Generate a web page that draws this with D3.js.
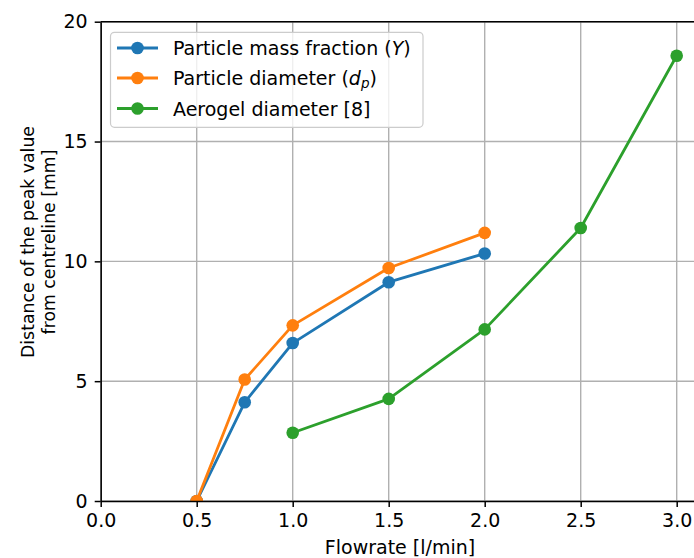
<!DOCTYPE html>
<html>
<head>
<meta charset="utf-8">
<script src="https://cdn.jsdelivr.net/npm/d3@7"></script>
<style>
  html, body { margin: 0; padding: 0; background: #fff; }
  svg { display: block; font-family: "DejaVu Sans", sans-serif; }
</style>
</head>
<body>
<svg id="chart" width="694" height="558"></svg>
<script>
// Flowrate (l/min) and distance of the peak value from the centreline (mm)
const flowMass = [0.5, 0.75, 1.0, 1.5, 2.0];
const massFraction = [0, 4.12, 6.59, 9.13, 10.33];

const flowDiam = [0.5, 0.75, 1.0, 1.5, 2.0];
const particleDiameter = [0, 5.07, 7.33, 9.72, 11.19];

const flowAerogel = [1.0, 1.5, 2.0, 2.5, 3.0];
const aerogelDiameter = [2.85, 4.26, 7.16, 11.39, 18.58];

const xTicks = [0.0, 0.5, 1.0, 1.5, 2.0, 2.5, 3.0];
const yTicks = [0, 5, 10, 15, 20];

const series = [
  { xs: flowMass, ys: massFraction, color: "#1f77b4" },
  { xs: flowDiam, ys: particleDiameter, color: "#ff7f0e" },
  { xs: flowAerogel, ys: aerogelDiameter, color: "#2ca02c" }
];

const svg = d3.select("#chart");
const plotL = 100.7, plotR = 695.9, plotT = 21.7, plotB = 501;

const x = d3.scaleLinear().domain([0, 3.1]).range([plotL, plotR]);
const y = d3.scaleLinear().domain([0, 20]).range([plotB, plotT]);

// grid
const grid = svg.append("g").attr("stroke", "#b0b0b0").attr("stroke-width", 1.4);
grid.selectAll("line.vx").data(xTicks).join("line")
  .attr("x1", d => x(d)).attr("x2", d => x(d))
  .attr("y1", plotT).attr("y2", plotB);
grid.selectAll("line.hy").data(yTicks).join("line")
  .attr("x1", plotL).attr("x2", plotR)
  .attr("y1", d => y(d)).attr("y2", d => y(d));

// clip to the plotting area
svg.append("clipPath").attr("id", "plotClip")
  .append("rect").attr("x", plotL).attr("y", plotT)
  .attr("width", plotR - plotL).attr("height", plotB - plotT);

const plot = svg.append("g").attr("clip-path", "url(#plotClip)");
const line = d3.line().x(d => x(d[0])).y(d => y(d[1]));

series.forEach(s => {
  const pts = s.xs.map((v, i) => [v, s.ys[i]]);
  plot.append("path").datum(pts)
    .attr("d", line)
    .attr("fill", "none")
    .attr("stroke", s.color)
    .attr("stroke-width", 2.8)
    .attr("stroke-linejoin", "round")
    .attr("stroke-linecap", "square");
  plot.selectAll(null).data(pts).join("circle")
    .attr("cx", d => x(d[0])).attr("cy", d => y(d[1]))
    .attr("r", 6.3)
    .attr("fill", s.color);
});

// axes
const fontSize = 19;
const xAxis = svg.append("g").attr("transform", `translate(0,${plotB})`)
  .call(d3.axisBottom(x).tickValues(xTicks).tickFormat(d3.format(".1f"))
    .tickSize(6).tickSizeOuter(0).tickPadding(7));
const yAxis = svg.append("g").attr("transform", `translate(${plotL},0)`)
  .call(d3.axisLeft(y).tickValues(yTicks).tickFormat(d3.format("d"))
    .tickSize(6).tickSizeOuter(0).tickPadding(7));

[xAxis, yAxis].forEach(a => {
  a.select(".domain").attr("stroke", "#000").attr("stroke-width", 1.5);
  a.selectAll(".tick line").attr("stroke", "#000").attr("stroke-width", 1.5);
  a.selectAll(".tick text").attr("fill", "#000")
    .attr("font-size", fontSize).attr("font-family", "DejaVu Sans");
});

// top spine
svg.append("line").attr("x1", plotL).attr("x2", plotR)
  .attr("y1", plotT).attr("y2", plotT)
  .attr("stroke", "#000").attr("stroke-width", 1.5);

// axis labels
svg.append("text").attr("x", 400).attr("y", 554)
  .attr("text-anchor", "middle").attr("font-size", fontSize)
  .text("Flowrate [l/min]");

const yl = svg.append("text")
  .attr("transform", "translate(0,242) rotate(-90)")
  .attr("text-anchor", "middle").attr("font-size", 17.3);
yl.append("tspan").attr("x", 0).attr("y", 34).text("Distance of the peak value");
yl.append("tspan").attr("x", 0).attr("y", 55).text("from centreline [mm]");

// legend
const lg = svg.append("g");
lg.append("rect")
  .attr("x", 110.5).attr("y", 32.3).attr("width", 312.5).attr("height", 95)
  .attr("rx", 4).attr("ry", 4)
  .attr("fill", "#fff").attr("fill-opacity", 0.8)
  .attr("stroke", "#cccccc").attr("stroke-width", 1.2);

const rowsY = [48, 78, 108.5];
series.forEach((s, i) => {
  const ry = rowsY[i];
  lg.append("line").attr("x1", 117).attr("x2", 158)
    .attr("y1", ry).attr("y2", ry)
    .attr("stroke", s.color).attr("stroke-width", 2.8);
  lg.append("circle").attr("cx", 137.5).attr("cy", ry).attr("r", 6.3).attr("fill", s.color);
});

const t1 = lg.append("text").attr("x", 173).attr("y", rowsY[0] + 7).attr("font-size", fontSize);
t1.append("tspan").text("Particle mass fraction (");
t1.append("tspan").attr("font-style", "italic").text("Y");
t1.append("tspan").text(")");

const t2 = lg.append("text").attr("x", 173).attr("y", rowsY[1] + 7).attr("font-size", fontSize);
t2.append("tspan").text("Particle diameter (");
t2.append("tspan").attr("font-style", "italic").text("d");
t2.append("tspan").attr("font-style", "italic").attr("font-size", 13.5).attr("dy", 3).text("p");
t2.append("tspan").attr("dy", -3).text(")");

lg.append("text").attr("x", 173).attr("y", rowsY[2] + 7).attr("font-size", fontSize)
  .text("Aerogel diameter [8]");
</script>
</body>
</html>
